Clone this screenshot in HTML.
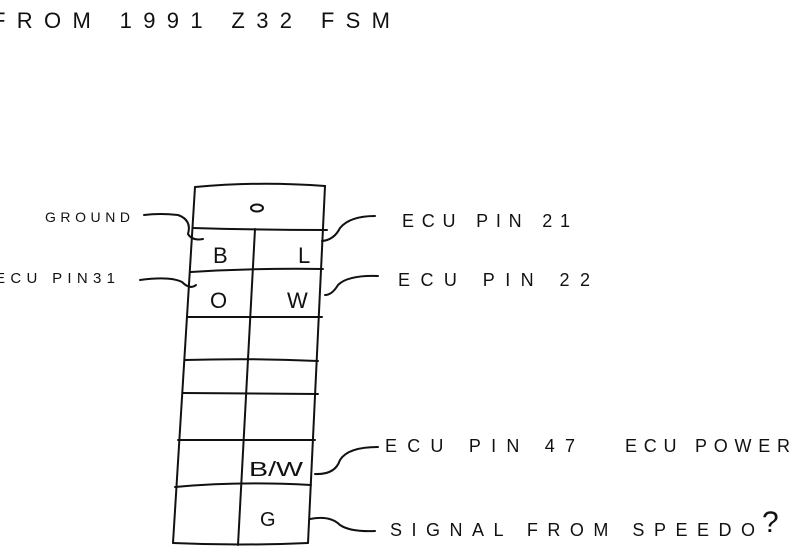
<!DOCTYPE html>
<html><head><style>
body{margin:0;background:#fff;width:800px;height:552px;overflow:hidden}
svg text{font-family:"Liberation Sans",sans-serif;fill:#111}
</style></head><body>
<svg width="800" height="552" viewBox="0 0 800 552" xmlns="http://www.w3.org/2000/svg">
<g fill="none" stroke="#111" stroke-width="2" stroke-linecap="round">
<path d="M195 187 Q260 181 325 186"/>
<path d="M195 187 L173 543"/>
<path d="M325 186 L308 543"/>
<path d="M193 228 Q260 230 327 230"/>
<path d="M191 272 Q255 268 323 269"/>
<path d="M188 317 L322 317"/>
<path d="M185 360 Q250 358 318 361"/>
<path d="M183 393 L318 394"/>
<path d="M178 440 L315 440"/>
<path d="M175 487 Q240 481 311 485"/>
<path d="M173 543 Q240 546 308 543"/>
<path d="M255 229 L238 545"/>
<ellipse cx="257" cy="208" rx="6" ry="3.5"/>
<path d="M144 215 Q160 213 178 215 Q192 220 188 234 Q192 241 203 239"/>
<path d="M375 216 Q350 216 340 228 Q334 240 322 241"/>
<path d="M140 280 Q170 276 182 282 Q190 290 196 285"/>
<path d="M378 276 Q348 275 338 285 Q332 295 325 295"/>
<path d="M378 447 Q348 447 340 460 Q335 475 315 474"/>
<path d="M310 519 Q330 515 340 525 Q350 532 375 531"/>
</g>
<g>
<text x="-8" y="28" font-size="22" textLength="398" lengthAdjust="spacing">FROM 1991 Z32 FSM</text>
<text x="45" y="222" font-size="14" textLength="85" lengthAdjust="spacing">GROUND</text>
<text x="402" y="227" font-size="18" textLength="168" lengthAdjust="spacing">ECU PIN 21</text>
<text x="-5" y="283" font-size="15" textLength="120" lengthAdjust="spacing">ECU PIN31</text>
<text x="398" y="286" font-size="18" textLength="192" lengthAdjust="spacing">ECU PIN 22</text>
<text x="385" y="452" font-size="18" textLength="190" lengthAdjust="spacing">ECU PIN 47</text>
<text x="625" y="452" font-size="18" textLength="165" lengthAdjust="spacing">ECU POWER</text>
<text x="390" y="536" font-size="18" textLength="365" lengthAdjust="spacing">SIGNAL FROM SPEEDO</text>
<text x="762" y="532" font-size="30">?</text>
</g>
<g font-size="22">
<text x="213" y="263">B</text>
<text x="298" y="263">L</text>
<text x="210" y="308">O</text>
<text x="287" y="308">W</text>
<text x="249" y="476" font-size="20" textLength="54" lengthAdjust="spacingAndGlyphs">B/W</text>
<text x="260" y="526" font-size="20">G</text>
</g>
</svg>
</body></html>
